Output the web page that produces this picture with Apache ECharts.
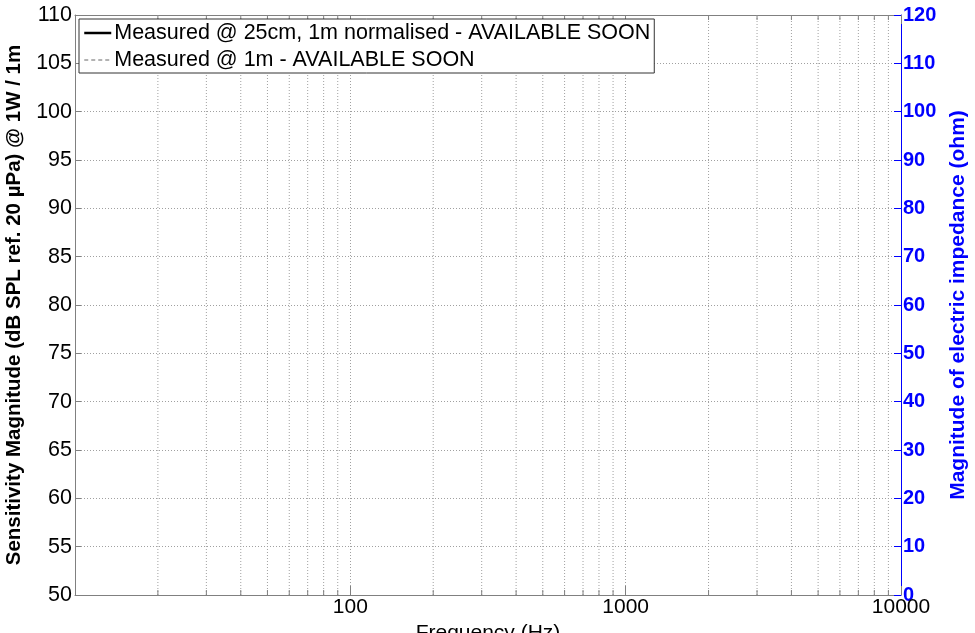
<!DOCTYPE html>
<html><head><meta charset="utf-8">
<script src="https://cdn.jsdelivr.net/npm/echarts@6/dist/echarts.min.js"></script>
<style>html,body{margin:0;padding:0;background:#fff}#c{width:975px;height:633px}</style>
</head><body><div id="c"></div>
<script>
// Data
const seriesNames = ['Measured @ 25cm, 1m normalised - AVAILABLE SOON', 'Measured @ 1m - AVAILABLE SOON'];
const splSeries25cm = [];   // not yet available
const splSeries1m = [];     // not yet available
const xMajorTicks = [10, 100, 1000, 10000];
const xMinorTicks = [20,30,40,50,60,70,80,90,200,300,400,500,600,700,800,900,2000,3000,4000,5000,6000,7000,8000,9000];
const leftTicks = [50,55,60,65,70,75,80,85,90,95,100,105,110];
const rightTicks = [0,10,20,30,40,50,60,70,80,90,100,110,120];

const FONT = 'Liberation Sans, Arial, Helvetica, sans-serif';
const AXIS = '#808080';
const BLUE = '#0000ff';
const GRID = '#a0a0a0';

const chart = echarts.init(document.getElementById('c'));
const yMin = leftTicks[0], yMax = leftTicks[leftTicks.length-1];

chart.setOption({
  animation: false,
  backgroundColor: '#fff',
  grid: {left: 75, right: 74, top: 15, bottom: 38, containLabel: false, outerBoundsMode: 'none'},
  legend: {
    data: [
      {name: seriesNames[0], lineStyle: {color: '#000', width: 2.5, type: 'solid'}},
      {name: seriesNames[1], lineStyle: {color: '#666', width: 1, type: [4, 3]}}
    ],
    orient: 'vertical',
    left: 79, top: 19,
    itemWidth: 27, itemHeight: 14, itemGap: 5,
    padding: [3, 4, 2, 4],
    borderColor: '#333', borderWidth: 1, backgroundColor: '#fff',
    itemStyle: {opacity: 0, borderWidth: 0},
    textStyle: {fontFamily: FONT, fontSize: 21.5, color: '#000', padding: [0,0,0,-2]},
    z: 10
  },
  xAxis: [{
    type: 'log', logBase: 10, min: xMajorTicks[0], max: xMajorTicks[xMajorTicks.length-1],
    name: 'Frequency (Hz)', nameLocation: 'middle', nameGap: 23,
    nameTextStyle: {fontFamily: FONT, fontSize: 21, color: '#000'},
    axisLine: {lineStyle: {color: AXIS, width: 1}},
    axisTick: {show: true, inside: true, length: 9, lineStyle: {color: AXIS}},
    axisLabel: {fontFamily: FONT, fontSize: 21, color: '#000', margin: 2,
      formatter: v => (v >= 100 ? String(Math.round(v)) : '')},
    splitLine: {show: true, lineStyle: {color: GRID, type: [1, 2], width: 1}},
    minorTick: {show: false}
  }, {
    type: 'log', logBase: 10, min: xMajorTicks[0], max: xMajorTicks[xMajorTicks.length-1],
    position: 'top',
    axisLine: {show: true, lineStyle: {color: AXIS, width: 1}},
    axisTick: {show: true, inside: true, length: 9, lineStyle: {color: AXIS}},
    axisLabel: {show: false},
    splitLine: {show: false}
  }],
  yAxis: [{
    type: 'value', min: yMin, max: yMax, interval: 5, position: 'left',
    name: 'Sensitivity Magnitude (dB SPL ref. 20 \u00b5Pa) @ 1W / 1m',
    nameLocation: 'middle', nameGap: 44, nameRotate: 90,
    nameTextStyle: {fontFamily: FONT, fontSize: 20.5, fontWeight: 'bold', color: '#000'},
    axisLine: {show: true, lineStyle: {color: AXIS}},
    axisTick: {show: true, inside: true, length: 6, lineStyle: {color: AXIS}},
    axisLabel: {fontFamily: FONT, fontSize: 21.5, color: '#000', margin: 3},
    splitLine: {show: true, lineStyle: {color: GRID, type: [1, 2], width: 1}}
  }, {
    type: 'value', min: rightTicks[0], max: rightTicks[rightTicks.length-1], interval: 10, position: 'right',
    name: 'Magnitude of electric impedance (ohm)',
    nameLocation: 'middle', nameGap: 41, nameRotate: 90,
    nameTextStyle: {fontFamily: FONT, fontSize: 21, fontWeight: 'bold', color: BLUE},
    axisLine: {show: true, lineStyle: {color: BLUE}},
    axisTick: {show: true, inside: true, length: 7, lineStyle: {color: BLUE}},
    axisLabel: {fontFamily: FONT, fontSize: 20, fontWeight: 'bold', color: BLUE, margin: 2},
    splitLine: {show: false}
  }],
  series: [{
    name: seriesNames[0], type: 'line', data: splSeries25cm, symbol: 'none',
    lineStyle: {color: '#000', width: 2.5, type: 'solid'}, itemStyle: {color: '#000'}
  }, {
    name: seriesNames[1], type: 'line', data: splSeries1m, symbol: 'none',
    lineStyle: {color: '#666', width: 1, type: [4, 3]}, itemStyle: {color: '#666'}
  }, {
    type: 'custom', silent: true, xAxisIndex: 0, yAxisIndex: 0,
    data: xMinorTicks.map(f => [f, yMin]),
    clip: false,
    renderItem: function (params, api) {
      const f = api.value(0);
      const bot = api.coord([f, yMin]);
      const top = api.coord([f, yMax]);
      const x = bot[0];
      return {type: 'group', children: [
        {type: 'line', shape: {x1: x, y1: top[1], x2: x, y2: bot[1]},
         style: {stroke: GRID, lineWidth: 1, lineDash: [1, 2]}},
        {type: 'line', shape: {x1: x, y1: bot[1], x2: x, y2: bot[1] - 5},
         style: {stroke: AXIS, lineWidth: 1}},
        {type: 'line', shape: {x1: x, y1: top[1], x2: x, y2: top[1] + 5},
         style: {stroke: AXIS, lineWidth: 1}}
      ]};
    }
  }]
});
</script></body></html>
